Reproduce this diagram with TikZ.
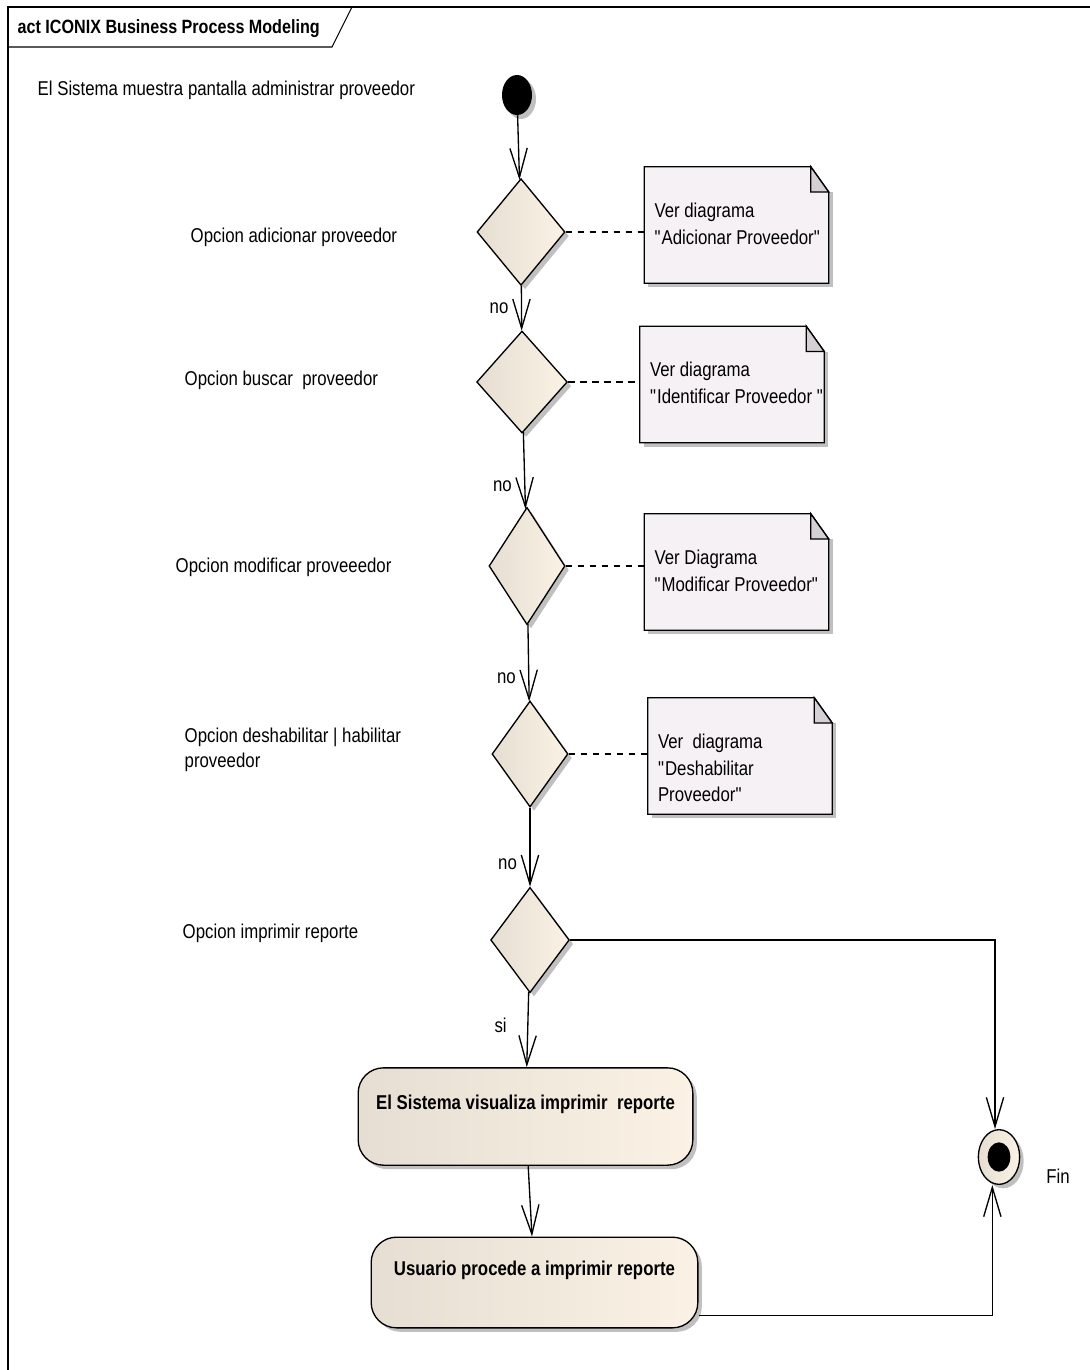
\documentclass[tikz,border=0pt]{standalone}
\usepackage{fontspec}
\setmainfont{Liberation Sans}[FakeStretch=0.84]
\usetikzlibrary{shapes.geometric,arrows.meta,shadows,backgrounds}

\definecolor{actleft}{RGB}{230,222,210}
\definecolor{actright}{RGB}{251,242,229}
\definecolor{notefill}{RGB}{245,241,245}
\definecolor{notefold}{RGB}{212,208,212}
\definecolor{shadowgray}{RGB}{192,192,192}

\tikzset{
  flow/.style={draw, line width=1pt, -{Straight Barb[length=22pt,width=13pt]}},
  link/.style={draw, line width=1pt, dash pattern=on 5pt off 4pt},
  castshadow/.style={drop shadow={shadow xshift=3pt, shadow yshift=-3pt, fill=shadowgray, opacity=1}},
  decision/.style={diamond, draw, line width=1pt, inner sep=0pt, left color=actleft, right color=actright, castshadow},
  actbox/.style={rectangle, rounded corners=19pt, draw, line width=1pt, left color=actleft, right color=actright, castshadow,
    font=\fontsize{15pt}{20pt}\selectfont\bfseries, text height=10pt, text depth=21pt},
  notebox/.style={inner xsep=7.5pt, inner ysep=0pt,
    execute at begin node={\begin{minipage}[c][87pt][t]{123pt}\raggedright\hbadness=10000\hfuzz=30pt\vspace*{27pt}},
    execute at end node={\end{minipage}}},
  sidetext/.style={anchor=west, align=left}
}

% straight double quote
\newcommand\dq{\textquotedbl}

% folded page behind a note node
\newcommand\notepage[1]{%
  \begin{pgfonlayer}{background}
    \fill[shadowgray] ([xshift=3pt,yshift=-3pt]#1.south west) rectangle ([xshift=3pt,yshift=-19pt]#1.north east);
    \filldraw[fill=notefill, line width=1pt] (#1.south west) -- (#1.north west) -- ([xshift=-13.5pt]#1.north east)
      -- ([yshift=-19pt]#1.north east) -- (#1.south east) -- cycle;
    \filldraw[fill=notefold, line width=1pt] ([xshift=-13.5pt]#1.north east) -- ([xshift=-13.5pt,yshift=-19pt]#1.north east)
      -- ([yshift=-19pt]#1.north east) -- cycle;
  \end{pgfonlayer}}

\begin{document}
\begin{tikzpicture}[x=0.75pt, y=-0.75pt, font=\fontsize{15pt}{20pt}\selectfont]
\useasboundingbox (0,0) rectangle (1089,1370);

% frame and title tab
\draw[line width=0.8pt] (8,7) rectangle (1110,1390);
\draw[line width=0.8pt] (8,47) -- (332,47) -- (352,7);
\node[anchor=west, font=\fontsize{14.4pt}{18pt}\selectfont\bfseries] (title) at (13,29) {act ICONIX Business Process Modeling};

% start
\node[ellipse, fill=black, minimum width=22.5pt, minimum height=30pt, inner sep=0pt, castshadow] (start) at (517,95) {};

% decisions
\node[decision, minimum width=66pt, minimum height=80pt] (d1) at (521,232) {};
\node[decision, minimum width=68pt, minimum height=76.5pt] (d2) at (522,382) {};
\node[decision, minimum width=57pt, minimum height=88pt] (d3) at (527,566) {};
\node[decision, minimum width=57pt, minimum height=79.5pt] (d4) at (530,754) {};
\node[decision, minimum width=59pt, minimum height=79pt] (d5) at (530,940) {};

% notes
\node[notebox] (n1) at (736.5,225) {Ver diagrama\\\mbox{\dq Adicionar Proveedor\dq}};
\node[notebox] (n2) at (732,384.5) {Ver diagrama\\\mbox{\dq Identificar Proveedor \dq}};
\node[notebox] (n3) at (736.5,572) {Ver Diagrama\\\mbox{\dq Modificar Proveedor\dq}};
\node[notebox] (n4) at (740,756) {Ver\ \ diagrama\\\dq Deshabilitar\\Proveedor\dq};
\notepage{n1}
\notepage{n2}
\notepage{n3}
\notepage{n4}

% actions
\node[actbox, minimum width=251pt, minimum height=73pt] (a1) at (525.5,1116.5) {El Sistema visualiza imprimir\ \ reporte};
\node[actbox, minimum width=245pt, minimum height=68pt] (a2) at (534.5,1282.5) {Usuario procede a imprimir reporte};

% end
\node[ellipse, draw, line width=1pt, left color=actleft, right color=actright, minimum width=31pt, minimum height=41pt, inner sep=0pt, castshadow] (fin) at (999,1157) {};
\node[ellipse, fill=black, minimum width=17pt, minimum height=22pt, inner sep=0pt] (finin) at (fin) {};
\node (fintext) at (1058,1176) {Fin};

% side texts
\node[sidetext] (l0) at (33,90) {El Sistema muestra pantalla administrar proveedor};
\node[sidetext] (l1) at (186,237) {Opcion adicionar proveedor};
\node[sidetext] (l2) at (180,380) {Opcion buscar\ \ proveedor};
\node[sidetext] (l3) at (171,567) {Opcion modificar proveeedor};
\node[sidetext, text depth=0pt, execute at begin node={\setlength{\baselineskip}{19pt}}] (l4) at (180,748) {Opcion deshabilitar | habilitar\\proveedor};
\node[sidetext] (l5) at (178,933) {Opcion imprimir reporte};

% flow
\draw[flow] (start) -- (d1);
\draw[flow] (d1) -- node[left=6pt, pos=0.5] {no} (d2);
\draw[flow] (d2) -- node[left=6pt, pos=0.7] {no} (d3);
\draw[flow] (d3) -- node[left=6pt, pos=0.7] {no} (d4);
\draw[flow] (d4) -- node[left=6pt, pos=0.72] {no} (d5);
\draw[flow] (d5) -- node[left=12pt, pos=0.45] {si} (a1);
\draw[flow] (a1) -- (a2);
\draw[flow] (d5.east) -| ([xshift=-3pt]fin.north);
\draw[flow] ([yshift=10pt]a2.south east) -| ([xshift=-5pt]fin.south);

% notes attached
\draw[link] (d1.east) -- (d1.east -| n1.west);
\draw[link] (d2.east) -- (d2.east -| n2.west);
\draw[link] (d3.east) -- (d3.east -| n3.west);
\draw[link] (d4.east) -- (d4.east -| n4.west);
\end{tikzpicture}
\end{document}
